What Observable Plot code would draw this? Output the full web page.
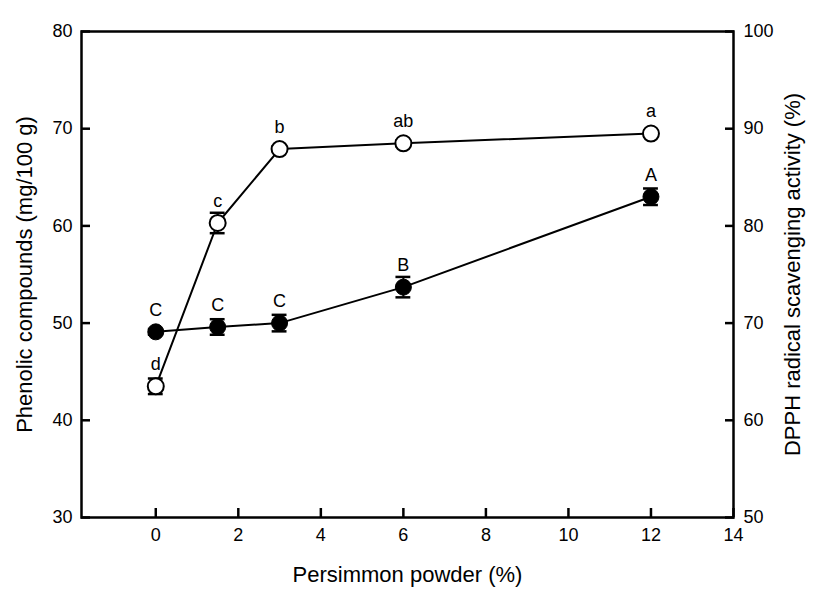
<!DOCTYPE html>
<html>
<head>
<meta charset="utf-8">
<script src="https://cdn.jsdelivr.net/npm/d3@7"></script>
<script src="https://cdn.jsdelivr.net/npm/@observablehq/plot@0.6"></script>
<style>
  html, body { margin: 0; padding: 0; background: #fff; }
  #chart svg { font-family: "Liberation Sans", Arial, sans-serif; }
</style>
</head>
<body>
<div id="chart"></div>
<script>
// Persimmon powder levels (%)
const powder = [0, 1.5, 3, 6, 12];
// Phenolic compounds (mg/100 g) — open circles, left axis
const phenolic = [43.5, 60.3, 67.9, 68.5, 69.5];
const phenolicErr = [0.8, 1.05, 0.3, 0.3, 0.3];
const phenolicLetters = ["d", "c", "b", "ab", "a"];
// DPPH radical scavenging activity (%) — filled circles, right axis
const dpph = [69.1, 69.6, 70.0, 73.7, 83.0];
const dpphErr = [0.3, 0.8, 0.85, 1.05, 0.85];
const dpphLetters = ["C", "C", "C", "B", "A"];
// axis ticks
const xTicks = [0, 2, 4, 6, 8, 10, 12, 14];
const leftTicks = [30, 40, 50, 60, 70, 80];
const rightTicks = [50, 60, 70, 80, 90, 100];

// right axis maps onto left axis: right = left + 20
const rightOffset = rightTicks[0] - leftTicks[0];
const toLeft = v => v - rightOffset;

const openData = powder.map((x, i) => ({x, y: phenolic[i], e: phenolicErr[i], t: phenolicLetters[i]}));
const fillData = powder.map((x, i) => ({x, y: toLeft(dpph[i]), e: dpphErr[i], t: dpphLetters[i]}));
const allData = [...openData, ...fillData];
const capHalf = 0.18;

const chart = Plot.plot({
  width: 827,
  height: 603,
  marginLeft: 81,
  marginRight: 94,
  marginTop: 31,
  marginBottom: 86,
  x: {domain: [-1.8, 14]},
  y: {domain: [30, 80]},
  style: {fontFamily: "Liberation Sans, Arial, sans-serif", color: "#000", background: "#fff"},
  marks: [
    Plot.axisX(xTicks, {anchor: "bottom", tickSize: -9, tickPadding: 20, fontSize: 18, strokeWidth: 2.5, label: null}),
    Plot.axisY(leftTicks, {anchor: "left", tickSize: -9, tickPadding: 18, fontSize: 18, strokeWidth: 2.5, label: null}),
    Plot.axisY(leftTicks, {anchor: "right", tickSize: -9, tickPadding: 19, fontSize: 18, strokeWidth: 2.5, label: null,
      tickFormat: d => d + rightOffset}),
    Plot.frame({stroke: "#000", strokeWidth: 2.5}),
    Plot.line(openData, {x: "x", y: "y", stroke: "#000", strokeWidth: 2}),
    Plot.line(fillData, {x: "x", y: "y", stroke: "#000", strokeWidth: 2}),
    // error bars
    Plot.ruleX(allData, {x: "x", y1: d => d.y - d.e, y2: d => d.y + d.e, stroke: "#000", strokeWidth: 2}),
    Plot.ruleY(allData, {y: d => d.y - d.e, x1: d => d.x - capHalf, x2: d => d.x + capHalf, stroke: "#000", strokeWidth: 2.5}),
    Plot.ruleY(allData, {y: d => d.y + d.e, x1: d => d.x - capHalf, x2: d => d.x + capHalf, stroke: "#000", strokeWidth: 2.5}),
    Plot.dot(fillData, {x: "x", y: "y", r: 8, fill: "#000", stroke: "#000", strokeWidth: 1}),
    Plot.dot(openData, {x: "x", y: "y", r: 8, fill: "#fff", stroke: "#000", strokeWidth: 2}),
    Plot.text(allData, {x: "x", y: "y", text: "t", dy: -22, fontSize: 18, fill: "#000", lineAnchor: "middle"}),
    // axis titles
    Plot.text(["Phenolic compounds (mg/100 g)"], {frameAnchor: "left", textAnchor: "middle", dx: -57, rotate: -90, fontSize: 22, fill: "#000"}),
    Plot.text(["DPPH radical scavenging activity (%)"], {frameAnchor: "right", textAnchor: "middle", dx: 59, rotate: -90, fontSize: 22, fill: "#000"}),
    Plot.text(["Persimmon powder (%)"], {frameAnchor: "bottom", dy: 64, fontSize: 22, fill: "#000"})
  ]
});
document.getElementById("chart").appendChild(chart);
</script>
</body>
</html>
